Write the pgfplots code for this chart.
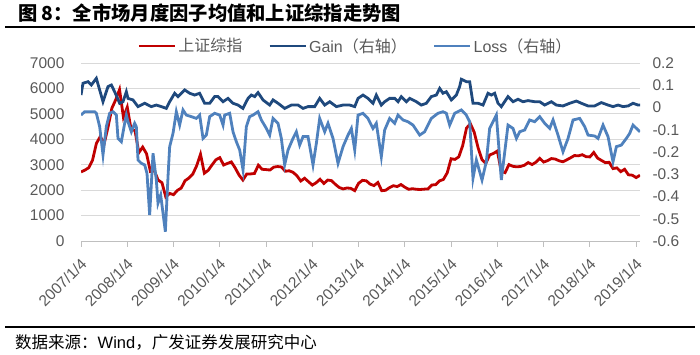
\documentclass[border=0pt]{standalone}
\usepackage{fontspec}
\setmainfont{Liberation Sans}
\newfontfamily\cjk{Noto Sans CJK SC}
\usepackage{pgfplots}
\pgfplotsset{compat=1.18}
\definecolor{cred}{HTML}{C00000}
\definecolor{cgain}{HTML}{1F497D}
\definecolor{closs}{HTML}{4F81BD}
\definecolor{tgray}{HTML}{595959}
\definecolor{gridc}{HTML}{D9D9D9}
\definecolor{axc}{HTML}{BFBFBF}
\begin{document}
\begin{tikzpicture}[x=1pt,y=1pt]
\useasboundingbox (0,0) rectangle (700,355);
\node[anchor=west, inner sep=0pt] at (18,342) {\cjk\bfseries\fontsize{19.3}{21}\selectfont 图\ 8：全市场月度因子均值和上证综指走势图};
\draw[line width=1.3pt] (5,328) -- (695,328);
\draw[line width=1.3pt] (5,28) -- (695,28);
\node[anchor=west, inner sep=0pt] at (15,13) {\fontsize{16.5}{18}\selectfont\cjk 数据来源：\rmfamily Wind\cjk ，广发证券发展研究中心};

\begin{axis}[
  at={(81pt,114pt)}, anchor=south west,
  scale only axis, width=559pt, height=178pt,
  xmin=0, xmax=145, ymin=0, ymax=7000,
  axis x line*=bottom, axis y line*=left,
  x axis line style={draw=axc, line width=0.8pt},
  y axis line style={draw=none},
  xtick={0,12,...,144},
  xticklabels={2007/1/4,2008/1/4,2009/1/4,2010/1/4,2011/1/4,2012/1/4,2013/1/4,2014/1/4,2015/1/4,2016/1/4,2017/1/4,2018/1/4,2019/1/4},
  ytick={0,1000,...,7000},
  ymajorgrids, grid style={draw=gridc, line width=0.8pt},
  tick align=outside, major tick length=6pt,
  x tick style={draw=axc, line width=0.8pt},
  y tick style={draw=none},
  yticklabel style={font=\fontsize{15.5}{17}\selectfont, text=tgray, xshift=-7pt},
  xticklabel style={font=\fontsize{15.5}{17}\selectfont, text=tgray, inner sep=0pt, xshift=3pt, yshift=-14pt, rotate=45, anchor=east},
  /pgf/number format/assume math mode=true,
  /pgf/number format/1000 sep={},
]
\addplot[cred, line width=2.8pt] coordinates {
(0,2715)(1,2786)(2,2881)(3,3183)(4,3841)(5,4109)(6,3820)(7,4471)(8,5218)(9,5552)(10,5955)(11,4871)
(12,5262)(13,4383)(14,4348)(15,3473)(16,3693)(17,3433)(18,2736)(19,2775)(20,2397)(21,2293)(22,1729)(23,1871)
(24,1821)(25,1991)(26,2082)(27,2373)(28,2477)(29,2633)(30,2959)(31,3412)(32,2667)(33,2779)(34,2996)(35,3195)
(36,3277)(37,2989)(38,3051)(39,3110)(40,2871)(41,2592)(42,2398)(43,2638)(44,2638)(45,2656)(46,2979)(47,2820)
(48,2808)(49,2791)(50,2905)(51,2928)(52,2911)(53,2743)(54,2762)(55,2701)(56,2568)(57,2359)(58,2468)(59,2333)
(60,2199)(61,2292)(62,2428)(63,2263)(64,2397)(65,2373)(66,2225)(67,2103)(68,2047)(69,2086)(70,2069)(71,1980)
(72,2269)(73,2385)(74,2366)(75,2237)(76,2178)(77,2301)(78,1979)(79,1994)(80,2098)(81,2175)(82,2141)(83,2220)
(84,2116)(85,2033)(86,2056)(87,2033)(88,2026)(89,2039)(90,2048)(91,2202)(92,2217)(93,2364)(94,2420)(95,2683)
(96,3235)(97,3210)(98,3310)(99,3748)(100,4442)(101,4612)(102,4277)(103,3664)(104,3206)(105,3053)(106,3383)(107,3445)
(108,3539)(109,2738)(110,2688)(111,3004)(112,2938)(113,2917)(114,2930)(115,2979)(116,3085)(117,3005)(118,3100)(119,3250)
(120,3104)(121,3159)(122,3242)(123,3223)(124,3155)(125,3117)(126,3192)(127,3273)(128,3361)(129,3349)(130,3393)(131,3317)
(132,3307)(133,3481)(134,3259)(135,3169)(136,3082)(137,3095)(138,2847)(139,2876)(140,2725)(141,2821)(142,2603)(143,2588)
(144,2494)(145,2585)
};
\end{axis}

\begin{axis}[
  at={(81pt,114pt)}, anchor=south west,
  scale only axis, width=559pt, height=178pt,
  xmin=0, xmax=145, ymin=-0.6, ymax=0.2,
  axis x line=none, axis y line*=right,
  y axis line style={draw=none},
  ytick={-0.6,-0.5,-0.4,-0.3,-0.2,-0.1,0,0.1,0.2},
  yticklabels={-0.6,-0.5,-0.4,-0.3,-0.2,-0.1,0,0.1,0.2},
  y tick style={draw=none},
  yticklabel style={font=\fontsize{15.5}{17}\selectfont, text=tgray, anchor=west, xshift=9pt},
  legend style={at={(0.491,1.096)}, anchor=center, draw=none, fill=none,
    font=\fontsize{16}{18}\selectfont, text=tgray, legend columns=3,
    /tikz/every even column/.append style={column sep=24pt}},
  legend cell align=left,
  legend image code/.code={\draw[#1] (0pt,0pt) -- (36pt,0pt);},
]
\addlegendimage{cred, line width=2.8pt}
\addplot[cgain, line width=2.8pt] coordinates {
(0,0.056)(0.52,0.109)(1.82,0.116)(2.68,0.101)(3.98,0.131)(4.84,0.079)(5.71,0.026)(7.0,0.094)(7.87,0.101)(8.73,0.071)
(10.03,0.019)(10.9,0.026)(11.76,0.071)(12.19,0.041)(13.49,0.034)(14.79,0.004)(16.52,0.019)(18.24,0.004)(19.54,0.011)(20.84,0.004)
(22.14,-0.004)(23.0,0.026)(24.3,0.064)(25.16,0.049)(26.89,0.079)(28.19,0.064)(29.49,0.056)(30.78,0.064)(32.08,0.019)(33.38,0.019)
(34.67,0.049)(35.54,0.049)(36.84,0.026)(38.13,0.041)(39.43,0.019)(40.73,0.011)(42.0,-0.004)(43.32,0.041)(44.19,0.056)(45.05,0.049)
(45.92,0.067)(47.21,0.034)(48.94,0.011)(49.81,0.034)(51.1,0.019)(52.83,-0.004)(54.56,0.011)(56.29,0.011)(57.59,-0.004)(58.89,0.004)
(60.62,0.004)(61.91,0.041)(63.21,0.011)(64.51,0.026)(66.24,0.004)(67.97,0.011)(69.7,0.011)(71.0,0.004)(71.86,0.041)(73.15,0.056)
(74.44,0.041)(75.74,0.019)(76.6,0.056)(77.9,0.011)(78.77,0.026)(80.06,0.041)(81.36,0.041)(82.23,0.026)(83.09,0.049)(84.39,0.026)
(85.25,0.041)(86.98,0.026)(88.28,0.011)(89.58,0.019)(90.87,0.049)(92.17,0.056)(93.03,0.086)(93.9,0.064)(94.76,0.071)(96.06,0.034)
(97.36,0.056)(98.22,0.094)(98.66,0.127)(99.95,0.116)(100.82,0.116)(101.68,0.019)(102.98,0.019)(104.28,0.011)(105.57,0.064)(106.44,0.056)
(107.3,0.064)(108.17,0.019)(109.03,0.004)(110.76,0.049)(112.06,0.026)(113.36,0.037)(114.66,0.026)(115.95,0.031)(117.68,0.026)(118.98,0.026)
(120.28,0.011)(122.0,0.026)(123.3,0.011)(125.03,0.007)(126.76,0.019)(128.49,0.029)(129.79,0.019)(131.52,0.007)(133.25,0.007)(134.98,0.022)
(136.7,0.011)(138.0,0.004)(139.3,0.011)(140.6,0.004)(141.9,0.007)(143.19,0.019)(144.49,0.011)(145,0.011)
};
\addplot[closs, line width=2.8pt] coordinates {
(0,-0.034)(0.95,-0.019)(2.25,-0.019)(3.55,-0.019)(3.98,-0.026)(4.84,-0.086)(5.71,-0.213)(6.57,-0.086)(7.44,-0.026)(8.3,-0.019)
(9.17,-0.034)(9.6,-0.139)(10.46,-0.154)(11.33,-0.071)(11.76,-0.034)(12.19,-0.064)(13.06,-0.109)(13.92,-0.071)(14.35,-0.086)(14.79,-0.236)
(15.65,-0.251)(16.52,-0.258)(17.12,-0.296)(17.81,-0.483)(18.68,-0.206)(19.54,-0.326)(19.97,-0.43)(20.67,-0.393)(21.88,-0.558)(22.57,-0.311)
(23.0,-0.176)(23.87,-0.116)(24.73,-0.019)(25.59,-0.079)(26.46,-0.011)(27.32,-0.034)(28.62,-0.041)(29.92,-0.049)(30.78,-0.034)(31.65,-0.139)
(32.51,-0.124)(33.38,-0.041)(34.67,-0.026)(35.97,-0.034)(36.84,-0.079)(37.27,-0.034)(38.57,-0.026)(39.43,-0.109)(40.3,-0.154)(41.16,-0.191)
(42.03,-0.281)(42.89,-0.086)(43.75,-0.041)(44.62,-0.034)(45.92,-0.019)(46.78,-0.056)(48.08,-0.094)(48.94,-0.124)(49.81,-0.049)(51.1,-0.071)
(51.97,-0.139)(52.83,-0.258)(53.7,-0.191)(54.99,-0.139)(55.86,-0.109)(56.72,-0.169)(57.59,-0.131)(58.89,-0.131)(60.18,-0.258)(61.05,-0.161)
(61.91,-0.049)(63.21,-0.109)(64.07,-0.071)(65.37,-0.139)(66.67,-0.251)(67.97,-0.176)(69.26,-0.124)(70.13,-0.094)(71.0,-0.191)(71.86,-0.034)
(73.15,-0.026)(74.44,-0.049)(75.74,-0.094)(76.6,-0.071)(77.9,-0.221)(78.77,-0.101)(80.06,-0.049)(81.36,-0.071)(82.23,-0.034)(83.52,-0.056)
(84.82,-0.064)(86.12,-0.079)(87.85,-0.124)(89.14,-0.109)(90.87,-0.049)(92.6,-0.026)(93.9,-0.019)(94.76,-0.026)(95.63,-0.079)(96.93,-0.026)
(98.66,-0.011)(99.95,-0.034)(100.82,-0.064)(101.68,-0.318)(102.55,-0.236)(104.02,-0.326)(105.14,-0.243)(106.0,-0.094)(106.87,-0.064)(107.74,-0.034)
(109.03,-0.326)(110.76,-0.079)(112.06,-0.094)(112.93,-0.139)(113.79,-0.109)(115.09,-0.101)(116.38,-0.056)(117.68,-0.064)(118.98,-0.041)(120.28,-0.071)
(121.57,-0.094)(122.44,-0.056)(123.73,-0.124)(125.03,-0.199)(126.33,-0.139)(127.63,-0.056)(129.36,-0.049)(130.65,-0.086)(131.52,-0.124)(133.25,-0.128)
(134.11,-0.139)(135.41,-0.079)(136.7,-0.131)(138.0,-0.244)(138.87,-0.176)(140.16,-0.169)(141.46,-0.139)(142.33,-0.116)(143.19,-0.079)(144.49,-0.101)
(145,-0.109)
};
\legend{{\cjk 上证综指},{Gain\cjk （右轴）},{Loss\cjk （右轴）}}
\end{axis}
\end{tikzpicture}
\end{document}
